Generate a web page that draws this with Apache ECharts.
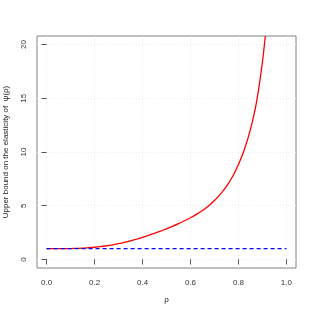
<!DOCTYPE html>
<html><head><meta charset="utf-8">
<script src="https://cdn.jsdelivr.net/npm/echarts@6/dist/echarts.min.js"></script>
<style>html,body{margin:0;padding:0;background:#fff}#c{width:315px;height:315px}</style>
</head><body><div id="c"></div>
<script>
var rho   = [0, 0.025, 0.05, 0.075, 0.1, 0.125, 0.15, 0.175, 0.2, 0.225, 0.25, 0.275, 0.3, 0.325, 0.35, 0.375, 0.4, 0.425, 0.45, 0.475,
             0.5, 0.525, 0.55, 0.575, 0.6, 0.625, 0.65, 0.675, 0.7, 0.725, 0.75, 0.775, 0.8, 0.825, 0.85, 0.875, 0.9, 0.912];
var bound = [1.0, 1.0, 1.0, 1.0, 1.01, 1.03, 1.05, 1.09, 1.13, 1.19, 1.27, 1.36, 1.46, 1.58, 1.72, 1.88, 2.05, 2.23, 2.42, 2.63,
             2.85, 3.08, 3.33, 3.6, 3.88, 4.19, 4.55, 4.98, 5.48, 6.08, 6.8, 7.7, 8.83, 10.25, 12.1, 14.6, 18.35, 20.8];
var refX  = [0, 1];
var refY  = [1, 1];
var xTicks = [0, 0.2, 0.4, 0.6, 0.8, 1.0];
var yTicks = [0, 5, 10, 15, 20];

var font = 'Liberation Sans, Arial, sans-serif';
var chart = echarts.init(document.getElementById('c'), null, {renderer: 'canvas'});
chart.setOption({
  animation: false,
  grid: {left: 37, right: 19, top: 36, bottom: 47, show: true, borderColor: '#808080', borderWidth: 1,
         backgroundColor: 'transparent', containLabel: false, outerBoundsMode: 'none'},
  xAxis: {
    type: 'value', min: -0.04, max: 1.04,
    name: 'ρ', nameLocation: 'middle', nameGap: 28,
    nameTextStyle: {fontFamily: font, fontSize: 8, color: '#222'},
    axisLine: {show: false},
    axisTick: {show: true, length: 5, customValues: xTicks, lineStyle: {color: '#555'}},
    axisLabel: {customValues: xTicks, fontFamily: font, fontSize: 8, color: '#333', margin: 11,
      formatter: function(v){ return v.toFixed(1); }},
    splitLine: {show: true, lineStyle: {color: '#ececec', type: [1, 2], width: 1}}
  },
  yAxis: {
    type: 'value', min: -0.8, max: 20.8,
    name: 'Upper bound on the elasticity of  ψ(ρ)', nameLocation: 'middle', nameGap: 27, nameRotate: 90,
    nameTextStyle: {fontFamily: font, fontSize: 8, color: '#222'},
    axisLine: {show: false},
    axisTick: {show: true, length: 5, customValues: yTicks, lineStyle: {color: '#555'}},
    axisLabel: {customValues: yTicks, rotate: 90, fontFamily: font, fontSize: 8, color: '#333', margin: 9},
    splitLine: {show: true, lineStyle: {color: '#ececec', type: [1, 2], width: 1}}
  },
  series: [
    {type: 'line', data: rho.map(function(x,i){return [x, bound[i]];}), showSymbol: false, smooth: 0.2, clip: true, z: 2,
     lineStyle: {color: '#ff0000', width: 1.3}},
    {type: 'line', data: refX.map(function(x,i){return [x, refY[i]];}), showSymbol: false, z: 3,
     lineStyle: {color: '#0000ff', width: 1.3, type: [4, 3]}}
  ]
});
</script></body></html>
